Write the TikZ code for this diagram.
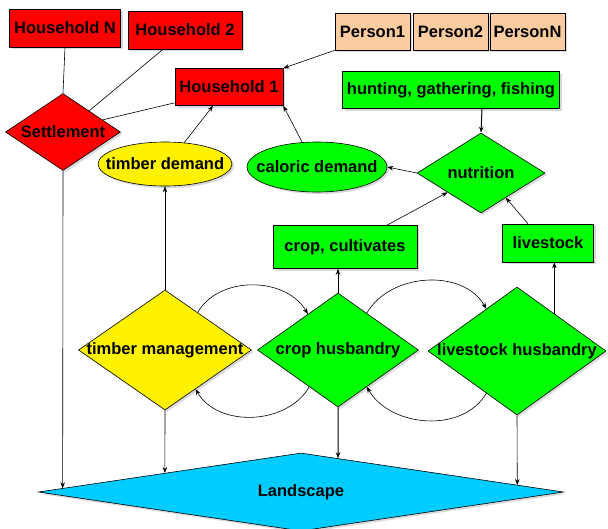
\documentclass[tikz,border=0pt]{standalone}
\usepackage{fontspec}
\setmainfont{Liberation Sans}
\usetikzlibrary{shapes.geometric,shadows,calc,arrows.meta}
\definecolor{peach}{RGB}{251,204,160}
\definecolor{skyblue}{RGB}{0,204,255}
\tikzset{
    box/.style={rectangle, draw, line width=0.6pt, inner sep=0pt,
        drop shadow={opacity=0.3, shadow xshift=2pt, shadow yshift=-2pt}},
    dia/.style={diamond, draw, line width=0.6pt, inner sep=0pt,
        drop shadow={opacity=0.3, shadow xshift=2pt, shadow yshift=-2pt}},
    oval/.style={ellipse, draw, line width=0.6pt, inner sep=0pt,
        drop shadow={opacity=0.3, shadow xshift=2pt, shadow yshift=-2pt}},
}
\begin{document}
\begin{tikzpicture}[x=1pt, y=1pt, line width=0.6pt, >={Stealth[length=6pt,width=4.5pt]},
    font=\fontsize{16.5}{19}\selectfont\bfseries]
    \useasboundingbox (0,0) rectangle (608,-528);

    % Households and the settlement
    \node[box, fill=red, minimum width=111pt, minimum height=38pt] (hhN) at (65,-28) {Household N};
    \node[box, fill=red, minimum width=114pt, minimum height=38pt] (hh2) at (185,-30) {Household 2};
    \node[box, fill=red, minimum width=108pt, minimum height=37pt] (hh1) at (229,-87) {Household 1};
    \node[dia, fill=red, minimum width=115pt, minimum height=77pt, label=center:Settlement] (settle) at (63,-132) {};

    % Persons
    \node[box, fill=peach, minimum width=75pt, minimum height=37pt] (p1) at (372.5,-31.5) {Person1};
    \node[box, fill=peach, minimum width=75pt, minimum height=37pt] (p2) at (450.5,-31.5) {Person2};
    \node[box, fill=peach, minimum width=75pt, minimum height=37pt] (pN) at (527.5,-31.5) {PersonN};

    % Demands and nutrition
    \node[box, fill=green, minimum width=217pt, minimum height=37pt] (hunt) at (451,-90) {hunting, gathering, fishing};
    \node[dia, fill=green, minimum width=128pt, minimum height=80pt, label=center:nutrition] (nutr) at (481,-173) {};
    \node[oval, fill=green, minimum width=140pt, minimum height=50pt, label=center:caloric demand] (cdem) at (317,-167) {};
    \node[oval, fill=yellow, minimum width=134pt, minimum height=44pt, label=center:timber demand] (tdem) at (165,-164) {};
    \node[box, fill=green, minimum width=144pt, minimum height=43pt] (cropc) at (345,-247) {crop, cultivates};
    \node[box, fill=green, minimum width=91pt, minimum height=38pt] (lstock) at (548,-243) {livestock};

    % Husbandry
    \node[dia, fill=yellow, minimum width=173pt, minimum height=120pt, label=center:timber management] (tman) at (165,-350) {};
    \node[dia, fill=green, minimum width=161pt, minimum height=114pt, label=center:crop husbandry] (chus) at (338,-350) {};
    \node[dia, fill=green, minimum width=178pt, minimum height=128pt, label=center:livestock husbandry] (lhus) at (517,-351) {};

    % Landscape
    \node[dia, fill=skyblue, minimum width=525pt, minimum height=78pt, label=center:Landscape] (land) at (301,-492) {};

    % Links to the settlement
    \draw (hhN.south) -- (settle.north);
    \draw ([xshift=-22pt]hh2.south) -- (settle.39);
    \draw ([yshift=3pt]hh1.south west) -- (settle.17);

    % Flows up to household 1
    \draw[->] (p1.south west) -- (hh1.north east);
    \draw[->] (tdem.48) -- ([xshift=-16pt]hh1.south);
    \draw[->] (cdem.121) -- (hh1.south east);
    \draw[->, line width=1pt] ([xshift=31pt]hunt.south) -- (nutr.north);
    \draw[->] (nutr.west) -- (cdem.east);
    \draw[->] ([xshift=42pt]cropc.north) -- (nutr.210);
    \draw[->] ([xshift=-20pt]lstock.north) -- (nutr.-45);
    \draw[->] (tman.north) -- (tdem.south);
    \draw[->, line width=1pt] (chus.north) -- (chus.north |- cropc.south);
    \draw[->] (lhus.45) -- (lhus.45 |- lstock.south);

    % Interactions between husbandries
    \draw[->] (tman.49) to[out=60, in=120] (chus.130);
    \draw[->] (chus.52) to[out=60, in=120] (lhus.126);
    \draw[->] (chus.-128) to[out=-120, in=-60] (tman.-52);
    \draw[->] (lhus.-126) to[out=-120, in=-60] (chus.-52);

    % Down to the landscape
    \draw[->] (settle.south) -- ($(land.west)!0.093!(land.north)$);
    \draw[->] (tman.south) -- ($(land.west)!0.482!(land.north)$);
    \draw[->, line width=1pt] (chus.south) -- ($(land.north)!0.141!(land.east)$);
    \draw[->] (lhus.south) -- ($(land.north)!0.823!(land.east)$);
\end{tikzpicture}
\end{document}
